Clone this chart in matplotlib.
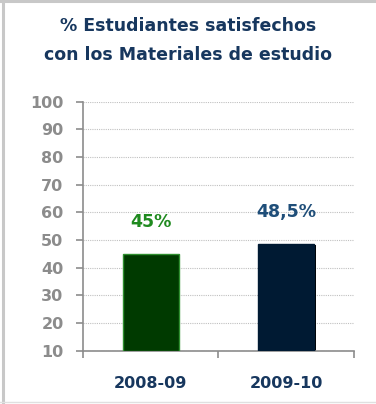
import matplotlib.pyplot as plt
from matplotlib.lines import Line2D

cursos = ['2008-09', '2009-10']
porcentajes = [45, 48.5]
etiquetas = ['45%', '48,5%']
rellenos = ['#003a00', '#001a33']
bordes = ['#2f8f2f', '#001a33']
colores_texto = ['#1f8a1f', '#1f4e79']

azul = '#17375e'
gris = '#8c8c8c'

fig = plt.figure(figsize=(3.76, 4.04), dpi=100)
plt.rcParams['font.family'] = ['DejaVu Sans']

# marco exterior
fig.add_artist(Line2D([0.008, 0.008], [0, 1], color='#c8c8c8', lw=2.2))
fig.add_artist(Line2D([0, 1], [0.997, 0.997], color='#c8c8c8', lw=2.2))
fig.add_artist(Line2D([0, 1], [0.005, 0.005], color='#e0e0e0', lw=1))

fig.text(0.5, 0.9, '% Estudiantes satisfechos\ncon los Materiales de estudio',
         ha='center', va='center', fontsize=12.5, fontweight='bold',
         color=azul, linespacing=1.78)

ax = fig.add_axes([0.2207, 0.1319, 0.7208, 0.6164])
x = range(len(cursos))

# sombra negra desplazada y barra
for i, v in enumerate(porcentajes):
    ax.bar(i + 0.014, v - 10.4, bottom=10, width=0.41, color='black', zorder=2)
    ax.bar(i, v - 10, bottom=10, width=0.41, color=rellenos[i],
           edgecolor=bordes[i], linewidth=1, zorder=3)
    ax.text(i, v + 11.5, etiquetas[i], ha='center', va='center',
            fontsize=12.5, fontweight='bold', color=colores_texto[i])

ax.set_xlim(-0.5, 1.5)
ax.set_ylim(10, 100)
ax.set_yticks(range(10, 101, 10))
ax.set_yticklabels([str(t) for t in range(10, 101, 10)],
                   fontsize=11.5, fontweight='bold', color=gris)
ax.set_xticks([-0.5, 0.5, 1.5])
ax.set_xticklabels([])
ax.set_xticks(list(x), minor=True)
ax.set_xticklabels(cursos, minor=True, fontsize=11.5, fontweight='bold', color=azul)
ax.tick_params(axis='x', which='minor', length=0, pad=18)
ax.tick_params(axis='x', which='major', length=5, color=gris, width=1.2)
ax.tick_params(axis='y', length=5, color=gris, width=1.2, pad=9)

ax.grid(axis='y', linestyle=(0, (1, 1)), color='#c0c0c0', linewidth=0.8, zorder=0)
ax.set_axisbelow(True)
for s in ['top', 'right']:
    ax.spines[s].set_visible(False)
for s in ['left', 'bottom']:
    ax.spines[s].set_color(gris)
    ax.spines[s].set_linewidth(1.2)

fig.savefig('out.png', dpi=100)
